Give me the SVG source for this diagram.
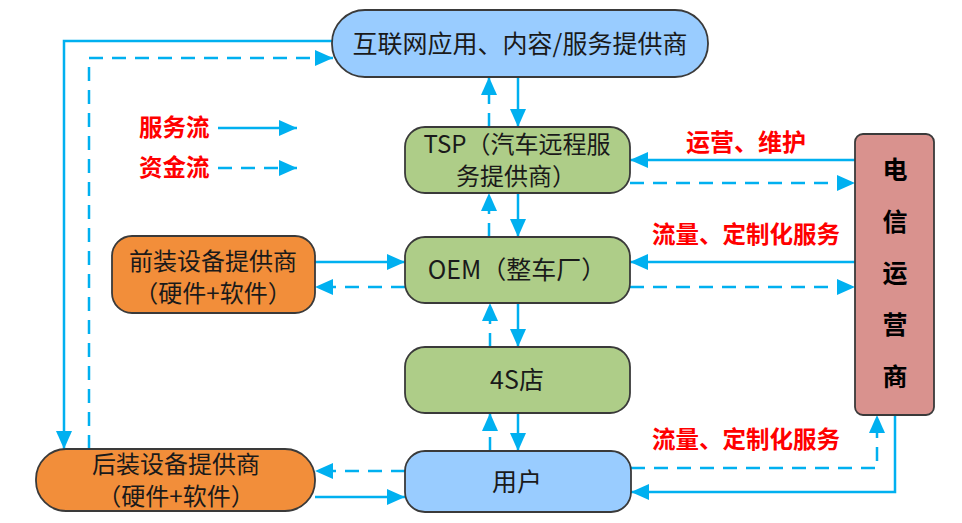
<svg xmlns="http://www.w3.org/2000/svg" width="962" height="523" viewBox="0 0 962 523">
<style>
.node{stroke:#3a3a3a;stroke-width:1.8}
.blue{fill:#99CCFF}
.green{fill:#AECD88}
.orange{fill:#F28E3A}
.red{fill:#D9928E}
.t{font-family:"Noto Sans CJK SC","Noto Sans",sans-serif;font-size:25px;fill:#1a1a1a;text-anchor:middle}
.t2{font-size:24px}
.lab{font-family:"Noto Sans CJK SC",sans-serif;font-size:23.5px;font-weight:bold;fill:#FF0000}
.op{font-family:"Noto Sans CJK SC",sans-serif;font-size:25px;font-weight:bold;fill:#000;text-anchor:middle}
.s{fill:none;stroke:#00B0F0;stroke-width:2.5;marker-end:url(#ah)}
.d{fill:none;stroke:#00B0F0;stroke-width:2.5;stroke-dasharray:14 9;marker-end:url(#ah)}
</style>
<defs>
<marker id="ah" markerUnits="userSpaceOnUse" markerWidth="19" markerHeight="16" refX="18" refY="8" orient="auto">
<path d="M0,0 L18,8 L0,16 z" fill="#00B0F0"/>
</marker>
</defs>
<rect width="962" height="523" fill="#fff"/>
<g id="connectors">
<path class="s" d="M518,77 V127"/>
<path class="d" d="M489,127 V77"/>
<path class="s" d="M518,193 V237"/>
<path class="d" d="M489,237 V193"/>
<path class="s" d="M518,303 V347"/>
<path class="d" d="M490,347 V303"/>
<path class="s" d="M518,413 V451"/>
<path class="d" d="M490,451 V413"/>
<path class="s" d="M855,160 H630"/>
<path class="d" d="M630,183 H855"/>
<path class="s" d="M855,262 H630"/>
<path class="d" d="M630,287 H855"/>
<path class="s" d="M315,262 H405"/>
<path class="d" d="M405,287 H315"/>
<path class="d" d="M405,471 H315"/>
<path class="s" d="M315,497 H405"/>
<path class="s" d="M333,41 H64 V449"/>
<path class="d" d="M89,449 V58 H333"/>
<path class="d" d="M631,468 H877 V415"/>
<path class="s" d="M895,415 V492 H631"/>
<path class="s" d="M218,128 H297"/>
<path class="d" d="M218,168 H297"/>
</g>
<g id="legend">
<text class="lab" x="139" y="136">服务流</text>
<text class="lab" x="139" y="176">资金流</text>
</g>
<g id="labels">
<text class="lab" x="686" y="151" style="font-size:24px">运营、维护</text>
<text class="lab" x="652" y="243">流量、定制化服务</text>
<text class="lab" x="652" y="448">流量、定制化服务</text>
</g>
<g id="internet">
<rect class="node blue" x="332" y="10" width="376" height="67" rx="33"/>
<text class="t" x="520" y="53">互联网应用、内容/服务提供商</text>
</g>
<g id="tsp">
<rect class="node green" x="405" y="127" width="225" height="66" rx="20"/>
<text class="t t2" x="517" y="153">TSP（汽车远程服</text>
<text class="t t2" x="516" y="185">务提供商）</text>
</g>
<g id="oem">
<rect class="node green" x="405" y="237" width="225" height="66" rx="20"/>
<text class="t" x="517" y="279">OEM（整车厂）</text>
</g>
<g id="shop4s">
<rect class="node green" x="405" y="347" width="225" height="66" rx="20"/>
<text class="t" x="517" y="389">4S店</text>
</g>
<g id="user">
<rect class="node blue" x="405" y="451" width="226" height="61" rx="20"/>
<text class="t" x="517" y="491">用户</text>
</g>
<g id="frontmount">
<rect class="node orange" x="112" y="236" width="203" height="77" rx="20"/>
<text class="t t2" x="213" y="270">前装设备提供商</text>
<text class="t t2" x="213" y="302">（硬件+软件）</text>
</g>
<g id="aftermarket">
<rect class="node orange" x="36" y="449" width="279" height="62" rx="30"/>
<text class="t t2" x="176" y="473">后装设备提供商</text>
<text class="t t2" x="176" y="505">（硬件+软件）</text>
</g>
<g id="operator">
<rect class="node red" x="855" y="134" width="79" height="281" rx="8"/>
<text class="op" x="895" y="179">电</text>
<text class="op" x="895" y="231">信</text>
<text class="op" x="895" y="282">运</text>
<text class="op" x="895" y="334">营</text>
<text class="op" x="895" y="386">商</text>
</g>
</svg>
